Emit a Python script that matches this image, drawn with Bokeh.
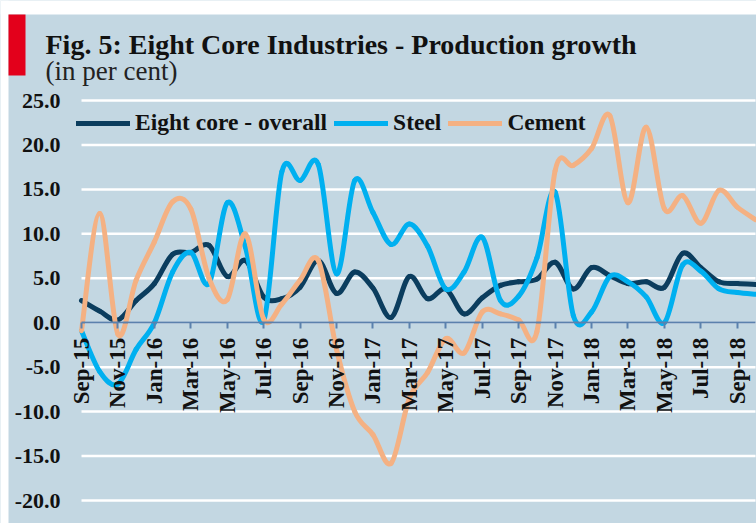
import math
from bokeh.plotting import figure
from bokeh.models import (FixedTicker, NumeralTickFormatter, Legend, LegendItem,
                          LinearAxis, Range1d)
from bokeh.core.properties import value
from bokeh.embed import file_html
from bokeh.resources import INLINE

# ---------------- data ----------------
months = ["Sep-15", "Oct-15", "Nov-15", "Dec-15",
          "Jan-16", "Feb-16", "Mar-16", "Apr-16", "May-16", "Jun-16",
          "Jul-16", "Aug-16", "Sep-16", "Oct-16", "Nov-16", "Dec-16",
          "Jan-17", "Feb-17", "Mar-17", "Apr-17", "May-17", "Jun-17",
          "Jul-17", "Aug-17", "Sep-17", "Oct-17", "Nov-17", "Dec-17",
          "Jan-18", "Feb-18", "Mar-18", "Apr-18", "May-18", "Jun-18",
          "Jul-18", "Aug-18", "Sep-18", "Oct-18"]

overall = [2.5, 1.3, 0.3, 2.5, 4.4, 7.7, 7.9, 8.7, 5.2, 7.0,
           2.9, 2.7, 4.0, 7.0, 3.3, 5.7, 3.9, 0.6, 5.2, 2.7,
           3.8, 1.0, 2.8, 4.2, 4.6, 4.9, 6.8, 3.8, 6.2, 5.3,
           4.4, 4.6, 4.0, 7.8, 6.2, 4.6, 4.4, 4.3]

steel = [-0.9, -5.5, -6.9, -3.0, 0.0, 5.7, 7.9, 4.4, 13.5, 8.5,
         0.2, 17.0, 16.0, 17.8, 5.5, 16.0, 12.4, 8.8, 11.1, 8.6,
         3.8, 5.7, 9.6, 2.5, 3.0, 7.3, 14.7, 0.8, 1.2, 5.2,
         4.6, 2.9, 0.0, 6.5, 5.8, 3.8, 3.4, 3.2]

cement = [-0.9, 12.3, -1.3, 4.8, 9.1, 13.6, 12.8, 5.0, 2.6, 10.0,
          0.4, 2.1, 4.8, 7.0, -3.0, -10.0, -12.6, -15.8, -8.5, -5.6,
          -1.8, -3.4, 1.2, 1.0, 0.3, -1.0, 17.1, 17.7, 19.6, 23.3,
          13.5, 22.0, 12.8, 14.3, 11.2, 14.9, 13.0, 11.6]

series_names = ["Eight core - overall", "Steel", "Cement"]
y_ticks = [-20, -15, -10, -5, 0, 5, 10, 15, 20, 25]
tick_idx = list(range(0, len(months), 2))
title_text = "Fig. 5: Eight Core Industries - Production growth"
subtitle_text = "(in per cent)"

# ---------------- style / layout ----------------
BG = "#C3D7E2"
RED = "#E3001B"
COLORS = ["#0B3D5E", "#00B0F0", "#F4B183"]
AXIS = "#5B81AD"
FONT = "Liberation Serif"
W, H = 756, 523                     # figure size (file_html page has no body margin)
PL, PR, PT, PB = 81, 755, 100, 500  # plot-area edges inside the figure, px

n_last = len(months) - 1
ymin, ymax = y_ticks[0], y_ticks[-1]
ppx = (PR - PL) / n_last
ppy = (PB - PT) / (ymax - ymin)
x_range = Range1d(-PL / ppx, n_last + (W - PR) / ppx)
y_range = Range1d(ymin - (H - PB) / ppy, ymax + PT / ppy)


def smooth(xs, ys):
    """Cubic Bezier segments (Catmull-Rom style) through the data points."""
    n = len(xs)
    d = dict(x0=[], y0=[], x1=[], y1=[], cx0=[], cy0=[], cx1=[], cy1=[])
    for i in range(n - 1):
        xm, ym = (xs[i - 1], ys[i - 1]) if i > 0 else (xs[i], ys[i])
        xp, yp = (xs[i + 2], ys[i + 2]) if i + 2 < n else (xs[i + 1], ys[i + 1])
        d["x0"].append(xs[i]); d["y0"].append(ys[i])
        d["x1"].append(xs[i + 1]); d["y1"].append(ys[i + 1])
        d["cx0"].append(xs[i] + (xs[i + 1] - xm) / 6.0)
        d["cy0"].append(ys[i] + (ys[i + 1] - ym) / 6.0)
        d["cx1"].append(xs[i + 1] - (xp - xs[i]) / 6.0)
        d["cy1"].append(ys[i + 1] - (yp - ys[i]) / 6.0)
    return d


p = figure(width=W, height=H, x_range=x_range, y_range=y_range,
           output_backend="svg", toolbar_location=None,
           x_axis_location=None, y_axis_location=None,
           min_border=0, min_border_left=0, min_border_right=0,
           min_border_top=0, min_border_bottom=0,
           background_fill_color=BG, border_fill_color=BG, outline_line_color=None)
p.grid.visible = False
p.extra_x_ranges = {"px": Range1d(0, W)}
p.extra_y_ranges = {"px": Range1d(H, 0)}

# white page margins around the panel
p.quad(left=[0, 0], right=[W, 8], top=[0, 0], bottom=[14, H], fill_color="white",
       line_color=None, x_range_name="px", y_range_name="px")

# horizontal grid lines across the plot area
p.segment(x0=[0] * len(y_ticks), x1=[n_last] * len(y_ticks), y0=y_ticks, y1=y_ticks,
          line_color="white", line_width=2.5)

# y axis (labels only)
yaxis = LinearAxis(ticker=FixedTicker(ticks=y_ticks),
                   formatter=NumeralTickFormatter(format="0.0"),
                   fixed_location=0, axis_line_color=None,
                   major_tick_line_color=None, minor_tick_line_color=None,
                   major_tick_out=0, major_tick_in=0, major_label_standoff=21,
                   major_label_text_font=FONT, major_label_text_font_style="bold",
                   major_label_text_font_size="22px", major_label_text_color="#111111")
p.add_layout(yaxis, "left")

# x axis crossing at zero
xaxis = LinearAxis(ticker=FixedTicker(ticks=tick_idx),
                   major_label_overrides={i: months[i] for i in tick_idx},
                   major_label_orientation=math.pi / 2,
                   fixed_location=0, bounds=(0, n_last),
                   axis_line_color=AXIS, axis_line_width=2,
                   major_tick_line_color=AXIS, major_tick_line_width=2,
                   major_tick_out=6, major_tick_in=0, minor_tick_line_color=None,
                   major_label_standoff=9,
                   major_label_text_font=FONT, major_label_text_font_style="bold",
                   major_label_text_font_size="23px", major_label_text_color="#111111")
p.add_layout(xaxis, "below")

# series
xi = list(range(len(months)))
renderers = []
for vals, col in zip([overall, steel, cement], COLORS):
    d = smooth(xi, vals)
    r = p.bezier(x0="x0", y0="y0", x1="x1", y1="y1", cx0="cx0", cy0="cy0",
                 cx1="cx1", cy1="cy1", source=d, line_color=col, line_width=5,
                 line_cap="round")
    renderers.append(r)

legend = Legend(items=[LegendItem(label=n, renderers=[r]) for n, r in zip(series_names, renderers)],
                orientation="horizontal", location=(76, 387), padding=0, margin=0,
                spacing=7, label_standoff=5, glyph_width=54, glyph_height=20,
                background_fill_alpha=0, border_line_color=None,
                label_text_font=FONT, label_text_font_style="bold",
                label_text_font_size="23.5px", label_text_color="#111111")
p.add_layout(legend)

# header: red bar, title, subtitle (pixel coordinates)
p.quad(left=[8], right=[25], top=[14], bottom=[75], fill_color=RED, line_color=None,
       x_range_name="px", y_range_name="px")
p.text(x=[45], y=[43.5], text=[title_text], text_font=value(FONT),
       text_font_style="bold", text_font_size="28px", text_baseline="alphabetic",
       text_color="#111111", x_range_name="px", y_range_name="px")
p.text(x=[45], y=[70], text=[subtitle_text], text_font=value(FONT),
       text_font_size="27px", text_baseline="alphabetic", text_color="#222222",
       x_range_name="px", y_range_name="px")

open("out.html", "w").write(file_html(p, INLINE))
